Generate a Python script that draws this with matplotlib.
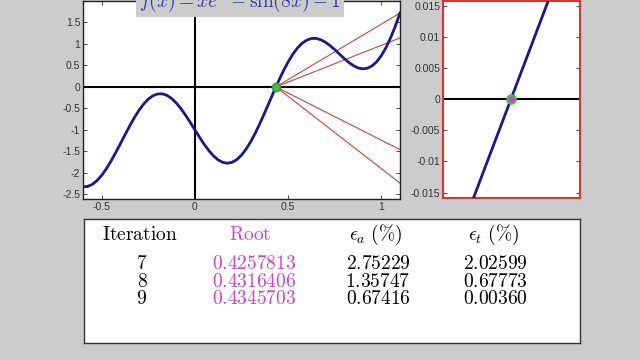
#plot.py
#bisection method demo: f(x) with zoom on the root and an iteration table

import matplotlib.pyplot as plt

plt.rcParams['mathtext.fontset'] = 'cm'
plt.rcParams['font.family'] = ['Liberation Sans', 'DejaVu Sans']

#data
x_vals = [-0.600, -0.575, -0.550, -0.525, -0.500, -0.475, -0.450, -0.425, -0.400, -0.375,
          -0.350, -0.325, -0.300, -0.275, -0.250, -0.225, -0.200, -0.175, -0.150, -0.125,
          -0.100, -0.075, -0.050, -0.025, 0.000, 0.025, 0.050, 0.075, 0.100, 0.125,
          0.150, 0.175, 0.200, 0.225, 0.250, 0.275, 0.300, 0.325, 0.350, 0.375,
          0.400, 0.425, 0.450, 0.475, 0.500, 0.525, 0.550, 0.575, 0.600, 0.625,
          0.650, 0.675, 0.700, 0.725, 0.750, 0.775, 0.800, 0.825, 0.850, 0.875,
          0.900, 0.925, 0.950, 0.975, 1.000, 1.025, 1.050, 1.075, 1.100]
f_vals = [-2.325, -2.317, -2.269, -2.182, -2.060, -1.907, -1.729, -1.533, -1.327, -1.117,
          -0.912, -0.719, -0.547, -0.400, -0.285, -0.206, -0.164, -0.161, -0.197, -0.269,
          -0.373, -0.505, -0.658, -0.826, -1.000, -1.173, -1.337, -1.484, -1.607, -1.700,
          -1.758, -1.777, -1.755, -1.692, -1.588, -1.446, -1.271, -1.066, -0.838, -0.596,
          -0.345, -0.094, 0.148, 0.376, 0.581, 0.759, 0.905, 1.016, 1.089, 1.127,
          1.129, 1.098, 1.041, 0.962, 0.867, 0.765, 0.664, 0.571, 0.495, 0.442,
          0.420, 0.434, 0.489, 0.586, 0.729, 0.916, 1.146, 1.415, 1.720]

root = 0.4346
line_end_x = 1.1
line_end_y = [1.72, 1.14, -1.46, -2.24]

zoom_x = [0.4329, 0.4363]
zoom_y = [-0.0166, 0.0166]

iterations = ['7', '8', '9']
roots = ['0.4257813', '0.4316406', '0.4345703']
err_a = ['2.75229', '1.35747', '0.67416']
err_t = ['2.02599', '0.67773', '0.00360']

bg = '#cdcccd'
blue = '#18188f'
magenta = '#d040d0'

fig = plt.figure(figsize=(6.4, 3.6), dpi=100)
fig.patch.set_facecolor(bg)

def style(ax, spine_color):
    for s in ax.spines.values():
        s.set_color(spine_color)
        s.set_linewidth(1.0)
    ax.tick_params(direction='in', length=3, width=0.6, colors='#333333',
                   labelsize=7.5, pad=2, top=True, right=True)

#main plot
ax = fig.add_axes([83/640, 1 - 199/360, 317/640, 198/360])
style(ax, '#222222')
ax.plot(x_vals, f_vals, color=blue, lw=2, zorder=3)
ax.axhline(0, color='black', lw=1.5, zorder=2)
ax.plot([0, 0], [-2.61, 1.6], color='black', lw=1.5, zorder=2)
for y in line_end_y:
    ax.plot([root, line_end_x], [0, y], color='#c84545', lw=0.8, zorder=2)
ax.plot(root, 0, 'o', ms=6, mfc='#40c040', mec='#30a030', zorder=4)
ax.set_xlim(-0.6, 1.1)
ax.set_ylim(-2.61, 2.0)
ax.set_xticks([-0.5, 0, 0.5, 1])
ax.set_xticklabels(['-0.5', '0', '0.5', '1'])
ax.set_yticks([-2.5, -2, -1.5, -1, -0.5, 0, 0.5, 1, 1.5])
ax.set_yticklabels(['-2.5', '-2', '-1.5', '-1', '-0.5', '0', '0.5', '1', '1.5'])

fig.text(240/640, 1 - 7/360, r'$f(x) = xe^{x} - \sin(8x) - 1$', ha='center', va='baseline',
         fontsize=14, color='#3535a5',
         bbox=dict(facecolor=bg, edgecolor='none', pad=2))

#zoomed plot
az = fig.add_axes([443/640, 1 - 197.5/360, 137/640, 196.5/360])
style(az, '#e03030')
for s in az.spines.values():
    s.set_linewidth(1.5)
az.plot(zoom_x, zoom_y, color=blue, lw=2, zorder=3)
az.axhline(0, color='black', lw=1.5, zorder=2)
az.plot(root, 0, 'o', ms=6, mfc=magenta, mec='#40c040', mew=1.5, zorder=4)
az.set_xlim(root - 0.00295, root + 0.0030)
az.set_ylim(-0.0158, 0.0158)
az.set_xticks([])
az.set_yticks([-0.015, -0.01, -0.005, 0, 0.005, 0.01, 0.015])
az.set_yticklabels(['-0.015', '-0.01', '-0.005', '0', '0.005', '0.01', '0.015'])

#table box
at = fig.add_axes([83.5/640, 1 - 342.5/360, 496.5/640, 124/360])
at.set_xticks([])
at.set_yticks([])
for s in at.spines.values():
    s.set_color('#333333')
    s.set_linewidth(1.0)

fs = 14
def put(xp, yp, s, color='black'):
    fig.text(xp/640, 1 - yp/360, s, ha='center', va='baseline', fontsize=fs, color=color)

put(140, 239.5, r'$\mathrm{Iteration}$')
put(250, 239.5, r'$\mathrm{Root}$', magenta)
put(376, 239.5, r'$\epsilon_a\ (\%)$')
put(494, 239.5, r'$\epsilon_t\ (\%)$')

row_y = [269, 287, 304.5]
for i in range(3):
    put(142, row_y[i], '$' + iterations[i] + '$')
    put(254, row_y[i], '$' + roots[i] + '$', magenta)
    put(378, row_y[i], '$' + err_a[i] + '$')
    put(495, row_y[i], '$' + err_t[i] + '$')

fig.savefig('out.png', dpi=100, facecolor=bg)
